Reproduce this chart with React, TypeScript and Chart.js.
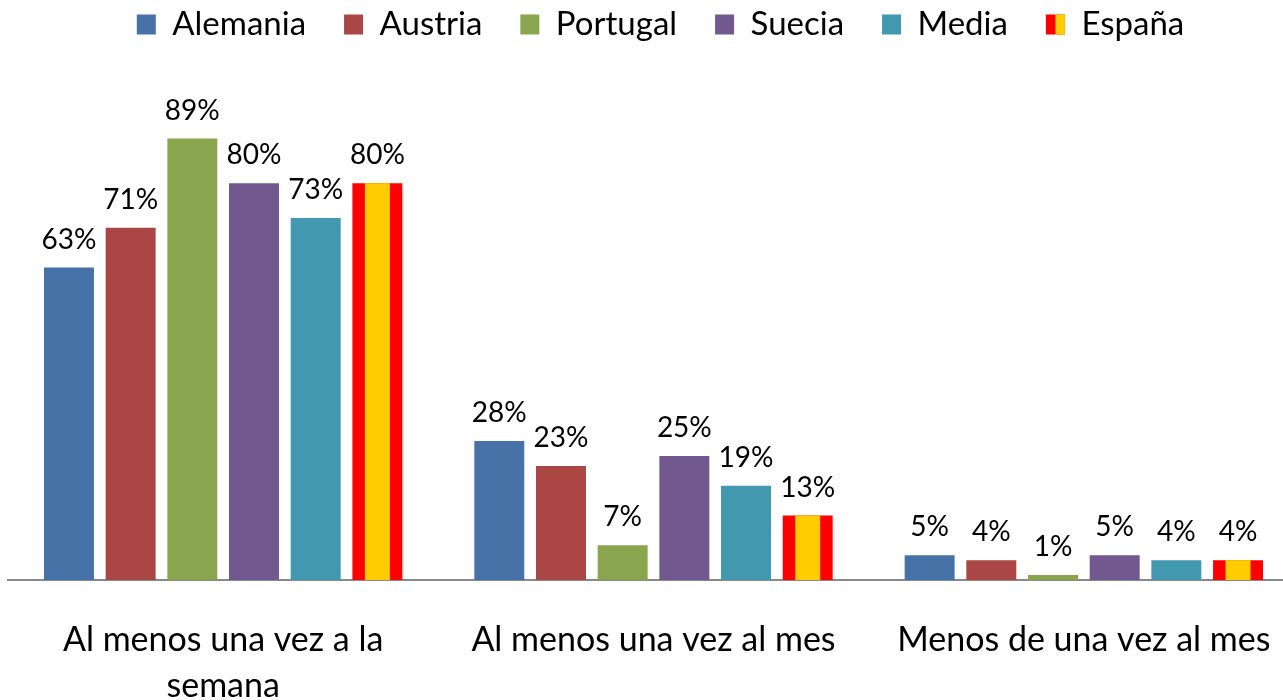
import React, { useEffect, useRef } from "react";
import { Chart, registerables } from "chart.js";

Chart.register(...registerables);

const categories: (string | string[])[] = [
  ["Al menos una vez a la", "semana"],
  "Al menos una vez al mes",
  "Menos de una vez al mes",
];
const seriesNames = ["Alemania", "Austria", "Portugal", "Suecia", "Media", "España"];
const alemania = [63, 28, 5];
const austria = [71, 23, 4];
const portugal = [89, 7, 1];
const suecia = [80, 25, 5];
const media = [73, 19, 4];
const espana = [80, 13, 4];
const seriesColors = ["#4672A8", "#AA4643", "#89A54E", "#71588F", "#4198AF", "#FF0000"];
const flagYellow = "#FFCC00";

const FONT = "Lato, 'Open Sans', sans-serif";
const LEGEND_SHIFT_Y = -30;
const LEGEND_SHIFT_X = 7;

export default function App() {
  const ref = useRef<HTMLCanvasElement | null>(null);

  useEffect(() => {
    if (!ref.current) return;
    const values = [alemania, austria, portugal, suecia, media, espana];

    const legendHeight = {
      id: "legendHeight",
      beforeInit(chart: any) {
        const lg = chart.legend;
        const origFit = lg.fit;
        lg.fit = function () {
          origFit.bind(lg)();
          this.height = 84;
        };
        const origDraw = lg.draw;
        lg.draw = function () {
          const ctx = chart.ctx;
          ctx.save();
          ctx.translate(LEGEND_SHIFT_X, LEGEND_SHIFT_Y);
          origDraw.bind(lg)();
          const hb = lg.legendHitBoxes && lg.legendHitBoxes[5];
          if (hb) {
            const bw = lg.options.labels.boxWidth;
            const bh = lg.options.labels.boxHeight;
            ctx.fillStyle = flagYellow;
            ctx.fillRect(hb.left + bw / 2, hb.top + Math.max(0, (hb.height - bh) / 2), bw / 2, bh);
          }
          ctx.restore();
        };
      },
    };

    const flagAndLabels = {
      id: "flagAndLabels",
      afterDatasetsDraw(chart: any) {
        const ctx = chart.ctx;
        ctx.save();
        const meta5 = chart.getDatasetMeta(5);
        meta5.data.forEach((bar: any) => {
          const w = bar.width;
          const left = bar.x - w / 2;
          ctx.fillStyle = flagYellow;
          ctx.fillRect(left + w * 0.25, bar.y, w * 0.5, bar.base - bar.y);
        });
        ctx.fillStyle = "#000";
        ctx.font = `28px ${FONT}`;
        ctx.textAlign = "center";
        ctx.textBaseline = "alphabetic";
        chart.data.datasets.forEach((ds: any, i: number) => {
          const meta = chart.getDatasetMeta(i);
          meta.data.forEach((bar: any, j: number) => {
            ctx.fillText(ds.data[j] + "%", bar.x, bar.y - 19);
          });
        });
        ctx.restore();
      },
    };

    const chart = new Chart(ref.current, {
      type: "bar",
      data: {
        labels: categories,
        datasets: seriesNames.map((name, i) => ({
          label: name,
          data: values[i],
          backgroundColor: seriesColors[i],
          borderWidth: 0,
          categoryPercentage: 0.86,
          barPercentage: 0.81,
        })),
      },
      options: {
        animation: false,
        responsive: false,
        layout: { padding: { left: 8, right: 1, top: 0, bottom: 0 } },
        plugins: {
          tooltip: { enabled: false },
          legend: {
            position: "top",
            labels: {
              boxWidth: 19,
              boxHeight: 20,
              padding: 38,
              color: "#000",
              font: { size: 33, family: FONT },
            },
          },
        },
        scales: {
          x: {
            grid: { display: false, drawTicks: false },
            border: { display: true, color: "#898989", width: 2 },
            ticks: {
              color: "#000",
              font: { size: 34, family: FONT, lineHeight: 1.35 },
              padding: 37,
              maxRotation: 0,
              autoSkip: false,
            },
            afterFit: (scale: any) => {
              scale.height = 120;
              scale.paddingLeft = 0;
              scale.paddingRight = 0;
            },
          },
          y: {
            display: false,
            min: 0,
            max: 100,
          },
        },
      },
      plugins: [legendHeight, flagAndLabels],
    });
    return () => chart.destroy();
  }, []);

  return (
    <div style={{ position: "fixed", left: 0, top: 0, width: 1283, height: 700, overflow: "hidden", background: "#fff" }}>
      <canvas ref={ref} width={1300} height={700} style={{ display: "block", width: 1300, height: 700 }} />
    </div>
  );
}
